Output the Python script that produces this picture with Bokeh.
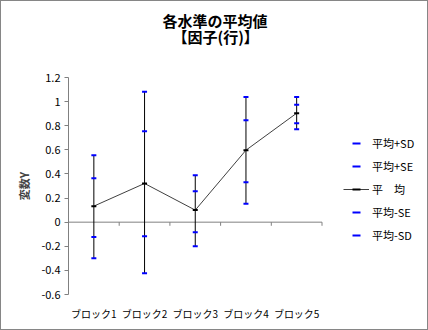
from bokeh.plotting import figure
from bokeh.models import (Range1d, FixedTicker, CustomJSTickFormatter, Title,
                          Legend, LegendItem, ColumnDataSource)
from bokeh.embed import file_html
from bokeh.resources import INLINE

categories = ["ブロック1", "ブロック2", "ブロック3", "ブロック4", "ブロック5"]
mean = [0.133, 0.321, 0.100, 0.597, 0.904]
plus_sd = [0.556, 1.081, 0.390, 1.039, 1.039]
plus_se = [0.365, 0.755, 0.257, 0.846, 0.973]
minus_se = [-0.124, -0.116, -0.083, 0.332, 0.821]
minus_sd = [-0.299, -0.423, -0.199, 0.152, 0.771]
y_ticks = [-0.6, -0.4, -0.2, 0, 0.2, 0.4, 0.6, 0.8, 1.0, 1.2]

FONT = "Noto Sans CJK JP"
BLUE = "#0000FF"
GRAY = "#808080"

n = len(categories)
xs = [i + 1 for i in range(n)]
bounds = [i + 1.5 for i in range(n)]

src = ColumnDataSource(dict(x=xs, mean=mean, psd=plus_sd, pse=plus_se,
                            mse=minus_se, msd=minus_sd))

# frame runs to the right edge so the legend area is inside it;
# categories occupy 0.5 .. n+0.5, extra range on the right holds the legend
p = figure(width=428, height=330, output_backend="svg", toolbar_location=None,
           x_range=Range1d(0.5, n + 2.62), y_range=Range1d(-0.6, 1.2),
           min_border_left=67, min_border_right=0, min_border_top=76, min_border_bottom=37,
           outline_line_color=None, background_fill_color="white", border_fill_color="white",
           styles={"border": "1px solid #868686", "box-sizing": "border-box"})
p.grid.visible = False

# x axis (labels only at bottom)
p.xaxis.ticker = FixedTicker(ticks=xs)
p.xaxis.major_label_overrides = {x: c for x, c in zip(xs, categories)}
p.xaxis.axis_line_color = None
p.xaxis.major_tick_line_color = None
p.xaxis.minor_tick_line_color = None
p.xaxis.major_label_standoff = 5
p.xaxis.major_label_text_font = FONT
p.xaxis.major_label_text_font_size = "10px"
p.xaxis.major_label_text_color = "black"

# y axis
p.yaxis.ticker = FixedTicker(ticks=y_ticks)
p.yaxis.formatter = CustomJSTickFormatter(code="return String(Math.round(tick*10)/10);")
p.yaxis.axis_line_color = GRAY
p.yaxis.major_tick_line_color = GRAY
p.yaxis.major_tick_out = 4
p.yaxis.major_tick_in = 0
p.yaxis.minor_tick_line_color = None
p.yaxis.major_label_standoff = 4
p.yaxis.major_label_text_font = FONT
p.yaxis.major_label_text_font_size = "11px"
p.yaxis.major_label_text_color = "black"
p.yaxis.axis_label = "変数Y"
p.yaxis.axis_label_text_font = FONT
p.yaxis.axis_label_text_font_size = "11px"
p.yaxis.axis_label_text_font_style = "bold"
p.yaxis.axis_label_standoff = 6

# category axis line at zero with boundary ticks
p.segment(x0=[0.5], y0=[0], x1=[n + 0.5], y1=[0], line_color=GRAY, line_width=1)
p.segment(x0=bounds, y0=[0] * n, x1=bounds, y1=[-0.03] * n, line_color=GRAY, line_width=1)

# error bars
p.segment(x0="x", y0="msd", x1="x", y1="psd", source=src, line_color="black", line_width=1)
mean_line = p.line("x", "mean", source=src, line_color="#404040", line_width=1)

MK = dict(marker="dash", size=5, line_width=2)
r_psd = p.scatter("x", "psd", source=src, line_color=BLUE, **MK)
r_pse = p.scatter("x", "pse", source=src, line_color=BLUE, **MK)
r_mean = p.scatter("x", "mean", source=src, line_color="black", **MK)
r_mse = p.scatter("x", "mse", source=src, line_color=BLUE, **MK)
r_msd = p.scatter("x", "msd", source=src, line_color=BLUE, **MK)

legend = Legend(items=[
    LegendItem(label="平均+SD", renderers=[r_psd]),
    LegendItem(label="平均+SE", renderers=[r_pse]),
    LegendItem(label="平　均", renderers=[mean_line, r_mean]),
    LegendItem(label="平均-SE", renderers=[r_mse]),
    LegendItem(label="平均-SD", renderers=[r_msd]),
], location=(275, 49), padding=0, margin=0, spacing=3, glyph_width=26, glyph_height=20,
    label_height=20, label_standoff=3, border_line_color=None, background_fill_alpha=0,
    label_text_font=FONT, label_text_font_size="11px", label_text_color="black")
p.add_layout(legend)

# titles, stacked from the plot upward: spacer, second line, first line
TSTYLE = dict(text_font=FONT, text_font_size="15px", text_font_style="bold", text_color="black")
p.add_layout(Title(text=" ", align="left", standoff=28, text_font_size="1px"), "above")
p.add_layout(Title(text="【因子(行)】", align="left", offset=104, standoff=0, **TSTYLE), "above")
p.add_layout(Title(text="各水準の平均値", align="left", offset=94, standoff=-15, **TSTYLE), "above")

open("out.html", "w").write(file_html(p, INLINE))
